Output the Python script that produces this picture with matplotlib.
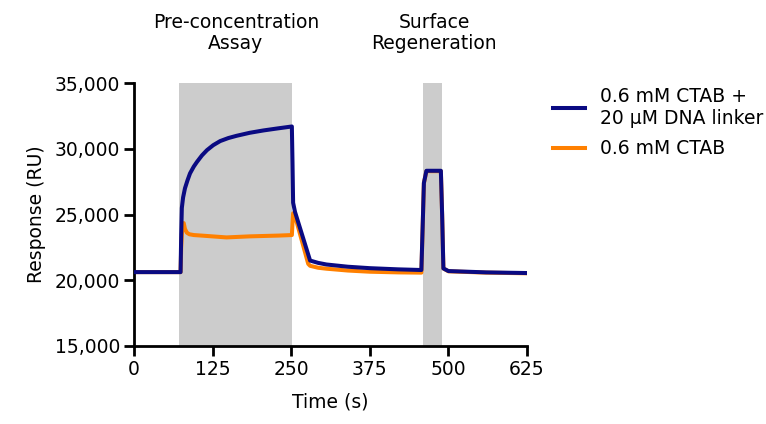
import matplotlib
matplotlib.use("Agg")
import matplotlib.pyplot as plt
import matplotlib.transforms as mtransforms

# sensorgram readings (time in s, response in RU)
t_linker = [0, 74, 75, 76, 78, 81, 85, 89, 95, 100, 108, 116, 126, 137, 150,
            163, 184, 206, 228, 251, 252, 253, 256, 280, 293, 306, 340, 375,
            420, 457, 459, 461, 465, 488, 490, 492, 500, 560, 625]
ru_linker = [20620, 20620, 23500, 25500, 26300, 27000, 27600, 28130, 28650,
             29000, 29500, 29900, 30280, 30590, 30820, 30990, 31220, 31400,
             31550, 31700, 29000, 25900, 25200, 21500, 21320, 21200, 21030,
             20920, 20830, 20780, 24000, 27400, 28330, 28330, 25000, 20900,
             20700, 20600, 20550]

t_ctab = [0, 74, 75, 77, 79, 81, 84, 88, 95, 110, 147, 184, 230, 251, 252,
          253, 256, 277, 280, 293, 306, 340, 375, 420, 457, 459, 461, 465,
          488, 490, 492, 500, 560, 625]
ru_ctab = [20620, 20620, 22500, 24300, 24350, 23900, 23620, 23500, 23440,
           23390, 23260, 23340, 23400, 23440, 24300, 25100, 24900, 21250,
           21100, 20950, 20880, 20740, 20650, 20600, 20580, 24000, 27400,
           28300, 28300, 25000, 20900, 20680, 20580, 20530]

phases = [(72, 251), (459, 490)]
phase_labels = ["Pre-concentration\nAssay", "Surface\nRegeneration"]
phase_label_x = [162, 477]

x_ticks = [0, 125, 250, 375, 500, 625]
y_ticks = [15000, 20000, 25000, 30000, 35000]

plt.rcParams['font.family'] = ['DejaVu Sans']
fs = 13.5

fig = plt.figure(figsize=(7.66, 4.24), dpi=100)
ax = fig.add_axes([0.175, 0.184, 0.513, 0.62])

for x0, x1 in phases:
    ax.axvspan(x0, x1, color='#cccccc', lw=0, zorder=0)

ax.plot(t_ctab, ru_ctab, color='#ff8000', lw=2.9, label='0.6 mM CTAB', zorder=2)
ax.plot(t_linker, ru_linker, color='#0a0a82', lw=2.9,
        label='0.6 mM CTAB +\n20 µM DNA linker', zorder=3)

trans = mtransforms.blended_transform_factory(ax.transData, ax.transAxes)
for xl, txt in zip(phase_label_x, phase_labels):
    ax.text(xl, 1.19, txt, transform=trans, ha='center', va='center',
            fontsize=fs, linespacing=1.15)

ax.set_xlim(0, 625)
ax.set_ylim(15000, 35000)
ax.set_xticks(x_ticks)
ax.set_yticks(y_ticks)
ax.set_yticklabels([f"{v:,}" for v in y_ticks])
ax.tick_params(labelsize=fs, width=2, length=7, direction='out', pad=3)

for side in ['top', 'right']:
    ax.spines[side].set_visible(False)
for side in ['left', 'bottom']:
    ax.spines[side].set_linewidth(2)

ax.set_xlabel('Time (s)', fontsize=fs, labelpad=10)
ax.set_ylabel('Response (RU)', fontsize=fs, labelpad=6)

handles, labels = ax.get_legend_handles_labels()
fig.legend(handles[::-1], labels[::-1], loc='upper left',
           bbox_to_anchor=(0.7, 0.835), frameon=False, fontsize=fs,
           handlelength=1.7, handletextpad=0.8, labelspacing=0.6)

fig.savefig('out.png', dpi=100)
